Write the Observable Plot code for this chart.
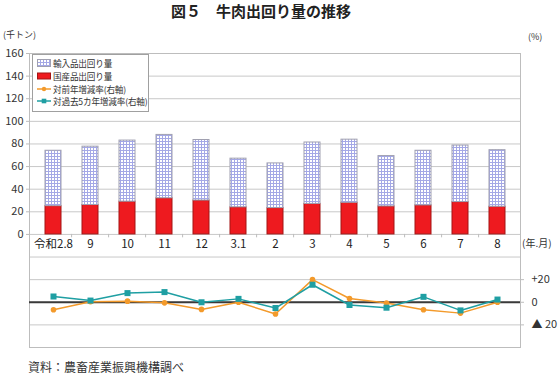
<!DOCTYPE html>
<html><head><meta charset="utf-8">
<script src="https://cdn.jsdelivr.net/npm/d3@7"></script>
<script src="https://cdn.jsdelivr.net/npm/@observablehq/plot@0.6"></script>
<style>
body{margin:0;background:#fff;font-family:'Noto Sans CJK JP','Noto Sans',sans-serif;}
#wrap{position:relative;width:558px;height:376px;overflow:hidden;background:#fff;}
#wrap > svg{position:absolute;left:0;top:0;}
.abs{position:absolute;white-space:nowrap;color:#333;line-height:1;}
#legend{position:absolute;left:32px;top:54px;width:117px;height:58px;border:1px solid #a0a0a0;background:#fff;box-sizing:border-box;padding:2px 0 0 4px;}
#legend .it{height:12.7px;display:flex;align-items:center;font-size:8.6px;color:#333;white-space:nowrap;letter-spacing:-0.15px;}
#legend svg{margin-right:2px;flex:none;}
</style></head><body>
<svg width="0" height="0" style="position:absolute"><defs>
<pattern id="grid" width="3" height="3" patternUnits="userSpaceOnUse">
<rect width="3" height="3" fill="#fff"/>
<path d="M0 0.5H3M0.5 0V3" stroke="#a4a8e6" stroke-width="1"/>
</pattern></defs></svg>
<div id="wrap"></div>
<script>
// ---- data ----
const months = ["令和2.8","9","10","11","12","3.1","2","3","4","5","6","7","8"];
const domestic = [25, 26, 29, 32, 30, 24, 23.3, 27, 28, 24.8, 25.7, 28.6, 24.5];   // 国産品出回り量 (千トン)
const imported = [49, 51.6, 54, 56, 53.5, 43, 39.5, 54.3, 55.8, 44.5, 48.3, 50, 50]; // 輸入品出回り量 (千トン)
const yoyRate = [-6.6, 0.5, 1, -0.5, -6.3, 0, -10.4, 20, 3.3, -0.6, -6.6, -9.6, 0];     // 対前年増減率 (%)
const fiveYearRate = [5.1, 1.5, 8.1, 9, 0, 3, -5.1, 15.5, -2.4, -4.8, 4.8, -7.2, 2.4]; // 対過去5カ年増減率 (%)
const leftTicks = [0, 20, 40, 60, 80, 100, 120, 140, 160];
const gridValues = [-100, -80, -60, -40, -20, 0, 20, 40, 60, 80, 100, 120, 140, 160];
const rightTicks = [-20, 0, 20];
const rightTickLabels = ["▲ 20", "0", "+20"];
const RIGHT_ZERO = -60; // right axis 0 corresponds to left axis -60 (same unit size)

const table = months.map((m, i) => ({
  month: m,
  domestic: domestic[i],
  total: domestic[i] + imported[i],
  yoy: yoyRate[i] + RIGHT_ZERO,
  five: fiveYearRate[i] + RIGHT_ZERO
}));

const chart = Plot.plot({
  width: 558, height: 376,
  marginTop: 53, marginBottom: 29, marginLeft: 29, marginRight: 38,
  style: {fontFamily: "'Noto Sans CJK JP','Noto Sans',sans-serif", fontSize: "11px", color: "#333", background: "transparent", overflow: "visible"},
  x: {type: "band", domain: months, paddingInner: 0.58, paddingOuter: 0.29, axis: null},
  y: {domain: [-100, 160], axis: null},
  marks: [
    Plot.ruleY(gridValues, {stroke: "#c8c8c8"}),
    Plot.frame({stroke: "#bdbdbd"}),
    Plot.axisY(leftTicks, {anchor: "left", tickSize: 3, tickPadding: 3, stroke: "#bdbdbd", fill: "#333", fontSize: 11, label: null}),
    Plot.axisY(rightTicks.map(v => v + RIGHT_ZERO), {anchor: "right", tickSize: 3, tickPadding: 8, stroke: "#bdbdbd", fill: "#333", fontSize: 11, label: null,
      tickFormat: v => rightTickLabels[rightTicks.indexOf(v - RIGHT_ZERO)]}),
    Plot.barY(table, {x: "month", y1: 0, y2: "domestic", fill: "#ee1a1f", stroke: "#a31515", strokeWidth: 1}),
    Plot.barY(table, {x: "month", y1: "domestic", y2: "total", fill: "url(#grid)", stroke: "#a0a0b0", strokeWidth: 1}),
    Plot.ruleX(months.slice(1), {x: d => d, y1: 0, y2: -3, dx: -18.9, stroke: "#bdbdbd"}),
    Plot.text(months, {x: d => d, y: 0, dy: 10, fontSize: 11.5, fill: "#222"}),
    Plot.ruleY([RIGHT_ZERO], {stroke: "#3a3a3a", strokeWidth: 2}),
    Plot.line(table, {x: "month", y: "yoy", stroke: "#f39a2b", strokeWidth: 1.5}),
    Plot.dot(table, {x: "month", y: "yoy", r: 2.8, fill: "#f39a2b"}),
    Plot.line(table, {x: "month", y: "five", stroke: "#1f9fa3", strokeWidth: 1.5}),
    Plot.dot(table, {x: "month", y: "five", symbol: "square", r: 3.4, fill: "#1f9fa3"})
  ]
});

const wrap = document.getElementById("wrap");
wrap.appendChild(chart);

function addText(txt, left, top, size, extra) {
  const d = document.createElement("div");
  d.className = "abs";
  d.textContent = txt;
  d.style.left = left + "px";
  d.style.top = top + "px";
  d.style.fontSize = size + "px";
  if (extra) Object.assign(d.style, extra);
  wrap.appendChild(d);
  return d;
}
addText("図５　牛肉出回り量の推移", 0, 3, 15, {width: "522px", textAlign: "center", fontWeight: "bold", color: "#222"});
addText("(千トン)", 3, 30, 9);
addText("(%)", 528, 32, 9);
addText("(年.月)", 522, 238, 10);
addText("資料：農畜産業振興機構調べ", 28, 361, 12);

const legendItems = [
  {label: "輸入品出回り量", sw: '<svg width="14" height="8"><rect x="0.5" y="0.5" width="13" height="7" fill="url(#grid)" stroke="#a0a0b0"/></svg>'},
  {label: "国産品出回り量", sw: '<svg width="14" height="8"><rect x="0.5" y="1" width="13" height="6" fill="#ee1a1f" stroke="#a31515"/></svg>'},
  {label: "対前年増減率(右軸)", sw: '<svg width="14" height="8"><line x1="0" y1="4" x2="14" y2="4" stroke="#f39a2b" stroke-width="1.5"/><circle cx="7" cy="4" r="2.2" fill="#f39a2b"/></svg>'},
  {label: "対過去5カ年増減率(右軸)", sw: '<svg width="14" height="8"><line x1="0" y1="4" x2="14" y2="4" stroke="#1f9fa3" stroke-width="1.5"/><rect x="4.7" y="1.7" width="4.6" height="4.6" fill="#1f9fa3"/></svg>'}
];
const lg = document.createElement("div");
lg.id = "legend";
lg.innerHTML = legendItems.map(d => `<div class="it">${d.sw}<span>${d.label}</span></div>`).join("");
wrap.appendChild(lg);
</script>
</body></html>
